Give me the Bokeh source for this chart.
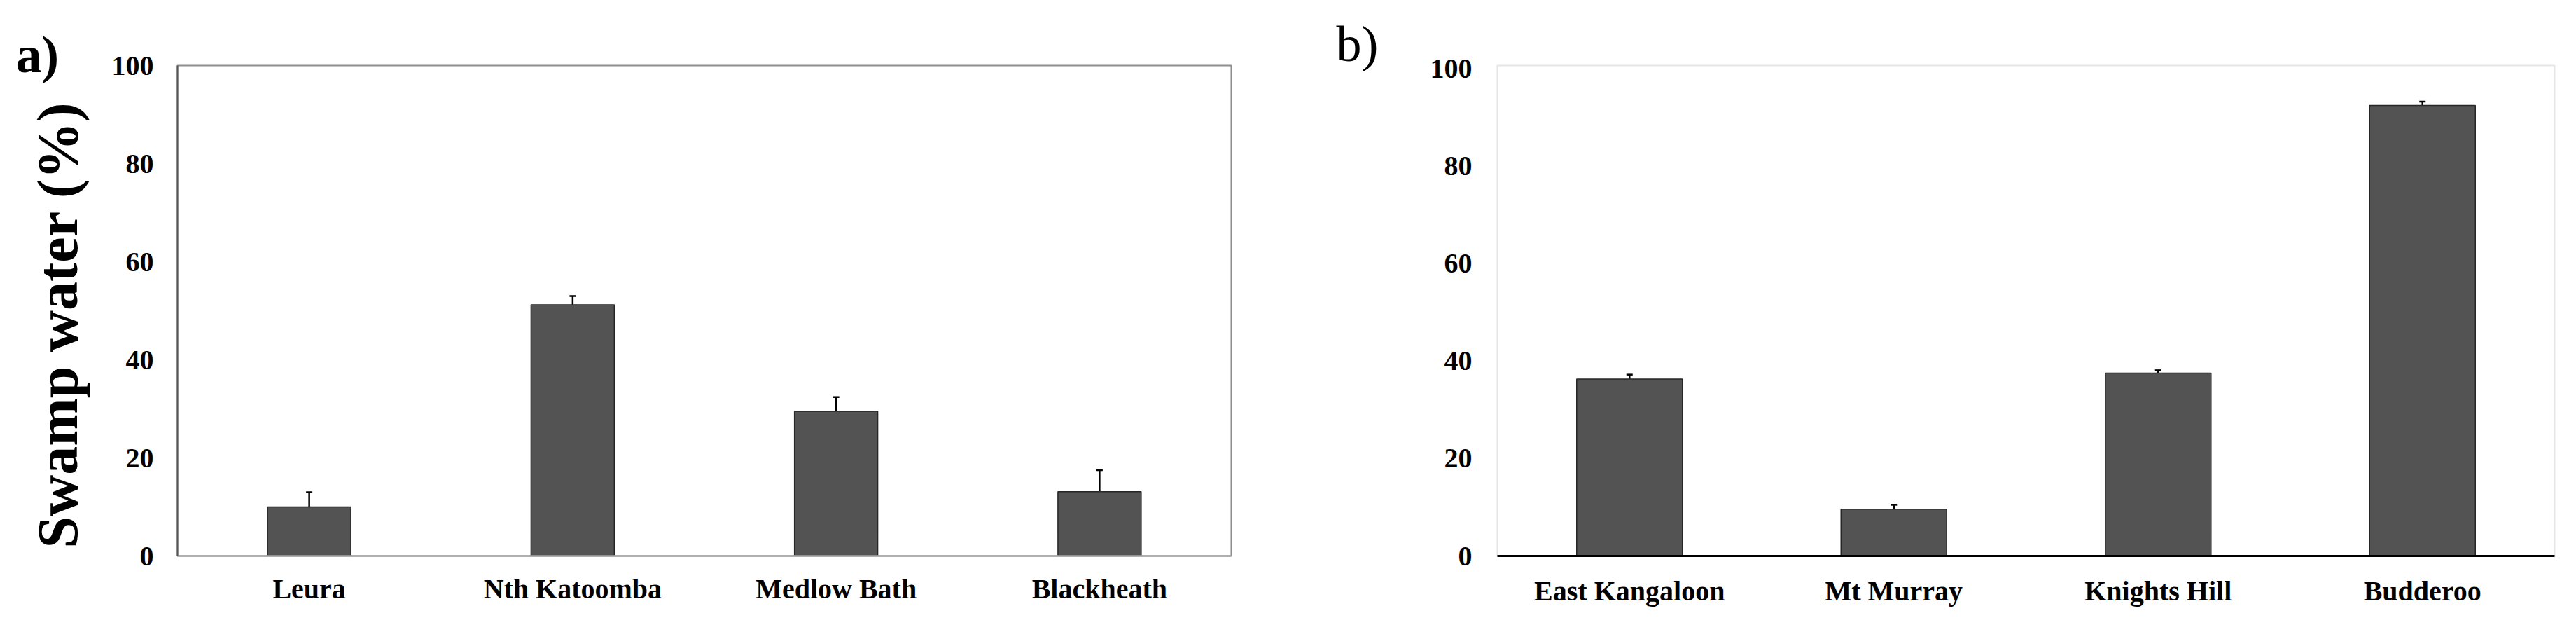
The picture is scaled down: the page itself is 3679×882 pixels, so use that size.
from bokeh.plotting import figure
from bokeh.models import (Range1d, FactorRange, FixedTicker, Whisker, TeeHead,
                          ColumnDataSource, Title)
from bokeh.layouts import row
from bokeh.embed import file_html
from bokeh.resources import INLINE

# ---- data ----
sites_a = ["Leura", "Nth Katoomba", "Medlow Bath", "Blackheath"]
water_a = [10.0, 51.2, 29.5, 13.1]
err_a = [3.0, 1.8, 2.9, 4.4]

sites_b = ["East Kangaloon", "Mt Murray", "Knights Hill", "Budderoo"]
water_b = [36.3, 9.6, 37.5, 92.4]
err_b = [0.9, 0.9, 0.6, 0.8]

y_ticks = [0, 20, 40, 60, 80, 100]
y_title = "Swamp water (%)"
FONT = "Liberation Serif"


def make_panel(sites, vals, errs, width, bl, br, bar_w, y_end, standoff_y,
               standoff_x, outline_color, left_axis_color, bottom_axis_color,
               bottom_axis_width):
    src = ColumnDataSource(dict(
        site=sites, val=vals,
        upper=[v + e for v, e in zip(vals, errs)],
        lower=[v - e for v, e in zip(vals, errs)],
    ))
    p = figure(width=width, height=868, x_range=FactorRange(factors=sites),
               y_range=Range1d(0, y_end), output_backend="svg",
               toolbar_location=None, min_border_left=bl, min_border_right=br,
               min_border_top=93, min_border_bottom=75)
    p.vbar(x="site", top="val", width=bar_w, source=src,
           fill_color="#535353", line_color="#262626", line_width=1.5)
    wk = Whisker(base="site", upper="upper", lower="lower", source=src,
                 line_color="black", line_width=2.5,
                 upper_head=TeeHead(size=9, line_width=2.5, line_color="black"),
                 lower_head=TeeHead(size=9, line_width=2.5, line_color="black"))
    p.add_layout(wk)

    p.xgrid.grid_line_color = None
    p.ygrid.grid_line_color = None
    p.outline_line_color = outline_color
    p.outline_line_width = 2
    p.background_fill_color = "white"
    p.border_fill_color = "white"

    yax = p.yaxis[0]
    yax.ticker = FixedTicker(ticks=y_ticks)
    yax.major_tick_in = 0
    yax.major_tick_out = 0
    yax.minor_tick_line_color = None
    yax.axis_line_color = left_axis_color
    yax.axis_line_width = 2
    yax.major_label_standoff = standoff_y
    yax.major_label_text_font = FONT
    yax.major_label_text_font_style = "bold"
    yax.major_label_text_font_size = "40px"
    yax.major_label_text_color = "black"

    xax = p.xaxis[0]
    xax.major_tick_in = 0
    xax.major_tick_out = 0
    xax.minor_tick_line_color = None
    xax.axis_line_color = bottom_axis_color
    xax.axis_line_width = bottom_axis_width
    xax.major_label_standoff = standoff_x
    xax.major_label_text_font = FONT
    xax.major_label_text_font_style = "bold"
    xax.major_label_text_font_size = "40px"
    xax.major_label_text_color = "black"
    return p


p1 = make_panel(sites_a, water_a, err_a, 1888, 253, 130, 0.316, 100, 34, 24,
                "#8e8e8e", "#555555", "#a8a8a8", 2.5)
p2 = make_panel(sites_b, water_b, err_b, 1775, 250, 15, 0.40, 100.6, 36, 27,
                "#e6e6e6", None, "black", 3)

# y-axis title on the left of panel a
p1.add_layout(Title(text=y_title, align="left", offset=11, vertical_align="middle",
                    standoff=56, text_font=FONT, text_font_style="bold",
                    text_font_size="82px", text_color="black"), "left")
# panel letters
p1.add_layout(Title(text="a)", align="left", offset=-231, vertical_align="top",
                    standoff=-55, text_font=FONT, text_font_style="bold",
                    text_font_size="74px", text_color="black"), "above")
p2.add_layout(Title(text="b)", align="left", offset=-230, vertical_align="top",
                    standoff=-22, text_font=FONT, text_font_style="normal",
                    text_font_size="72px", text_color="black"), "above")

layout = row(p1, p2)
open("out.html", "w").write(file_html(layout, INLINE))
